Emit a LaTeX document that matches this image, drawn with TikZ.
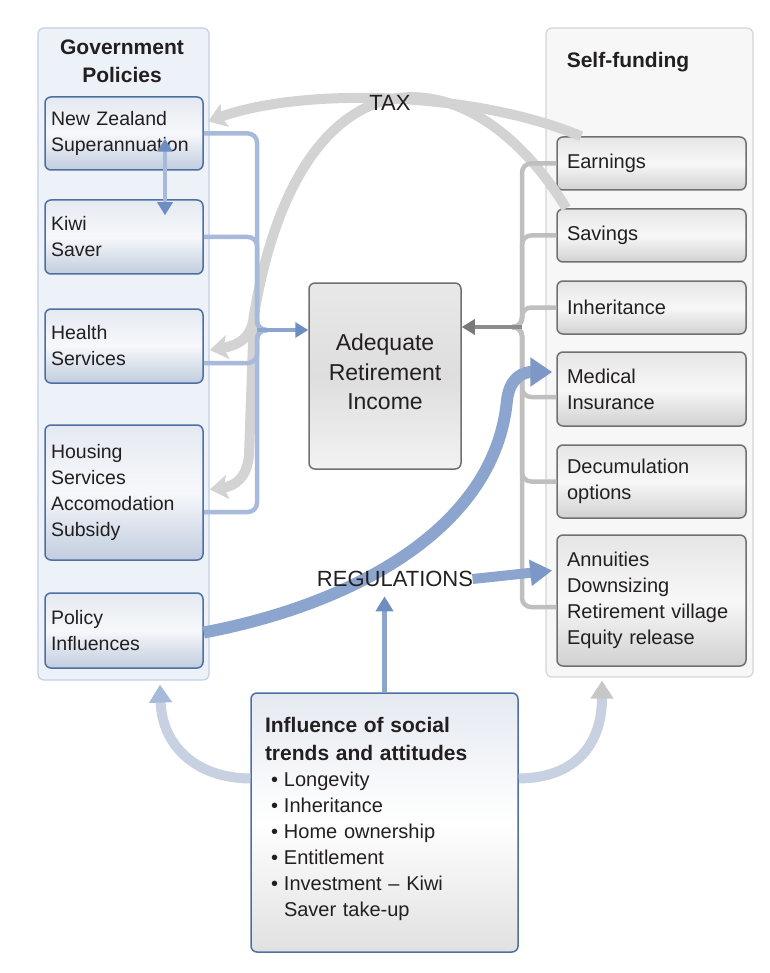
\documentclass[tikz,border=0pt]{standalone}
\usepackage{fontspec}
\setmainfont{Liberation Sans}
\usetikzlibrary{arrows.meta}

\definecolor{txt}{HTML}{231F20}
\definecolor{govfill}{HTML}{EDF1F8}
\definecolor{govline}{HTML}{C3CFE3}
\definecolor{selffill}{HTML}{F7F7F7}
\definecolor{selfline}{HTML}{D4D4D4}
\definecolor{boxblue}{HTML}{4E6FA3}
\definecolor{boxgray}{HTML}{707070}
\definecolor{lnkblue}{HTML}{A7BADB}
\definecolor{tipblue}{HTML}{6E8DC0}
\definecolor{lnkgray}{HTML}{BFBFBF}
\definecolor{tipgray}{HTML}{7A7A7A}
\definecolor{taxgray}{HTML}{D3D3D3}
\definecolor{arcblue}{HTML}{8CA5CE}
\definecolor{trendmix}{HTML}{C8D1E1}

\tikzset{
  panel/.style={rounded corners=6pt, line width=1.2pt, inner sep=0pt},
  paneltitle/.style={align=center, text=txt, font=\fontsize{21}{28}\bfseries},
  govbox/.style={draw=boxblue, line width=1.5pt, rounded corners=6pt,
    top color=govtop, bottom color=govbot, middle color=govmid,
    minimum width=158, text width=146, inner xsep=6pt, align=left,
    text=txt, font=\fontsize{19.5}{26}\selectfont},
  selfbox/.style={draw=boxgray, line width=1.5pt, rounded corners=6pt,
    top color=graytop, bottom color=graybot, middle color=graymid,
    minimum width=189, text width=169, inner xsep=10pt, align=left,
    text=txt, font=\fontsize{20}{26}\selectfont},
  govlink/.style={draw=lnkblue, line width=4.5pt, rounded corners=9pt},
  selflink/.style={draw=lnkgray, line width=4.5pt, rounded corners=9pt},
  biglabel/.style={text=txt, font=\fontsize{22}{26}\selectfont},
  taxarc/.style={draw=taxgray, line width=10pt,
    -{Stealth[width=24pt, length=18pt, inset=4pt]}},
}
\colorlet{govtop}{boxblue!15!white}
\colorlet{govmid}{boxblue!5!white}
\colorlet{govbot}{boxblue!35!white}
\colorlet{graytop}{black!10}
\colorlet{graymid}{black!3}
\colorlet{graybot}{black!18}

\begin{document}
\begin{tikzpicture}[x=1pt, y=-1pt]
  \useasboundingbox (0,0) rectangle (769,973);

  \node[panel, draw=govline, fill=govfill, minimum width=171, minimum height=652] (govpanel) at (123.5,354) {};
  \node[panel, draw=selfline, fill=selffill, minimum width=207, minimum height=649] (selfpanel) at (649.5,352.5) {};
  \node[paneltitle] (govtitle) at (122,61) {Government\\Policies};
  \node[paneltitle] (selftitle) at (628,62) {Self-funding};

  \node[govbox, minimum height=73] (nzsuper) at (124,133.5) {New Zealand\\Superannuation};
  \node[govbox, minimum height=74] (kiwi) at (124,237) {Kiwi\\Saver};
  \node[govbox, minimum height=74] (health) at (124,346) {Health\\Services};
  \node[govbox, minimum height=135] (housing) at (124,492.5) {Housing\\Services\\Accomodation\\Subsidy};
  \node[govbox, minimum height=75] (policy) at (124,630.5) {Policy\\Influences};

  \node[selfbox, minimum height=53] (earnings) at (651.5,163.5) {Earnings};
  \node[selfbox, minimum height=53] (savings) at (651.5,235.5) {Savings};
  \node[selfbox, minimum height=53] (inherit) at (651.5,307.5) {Inheritance};
  \node[selfbox, minimum height=74] (medical) at (651.5,389) {Medical\\Insurance};
  \node[selfbox, minimum height=73] (decum) at (651.5,481.5) {Decumulation\\options};
  \node[selfbox, minimum height=131] (annuities) at (651.5,600.5) {Annuities\\Downsizing\\Retirement village\\Equity release};

  \node[draw=boxgray, line width=1.5pt, rounded corners=6pt, top color=black!9, bottom color=black!5, middle color=black!13,
    minimum width=152, minimum height=186, align=center, text=txt, font=\fontsize{23}{29.5}\selectfont] (income) at (385,376)
    {Adequate\\Retirement\\Income\\[-21.5pt]\mbox{}};

  \node[draw=boxblue, line width=1.5pt, rounded corners=6pt, top color=govtop, bottom color=black!12, middle color=white,
    minimum width=267, minimum height=259, text width=239, inner xsep=14pt, align=left, text=txt,
    font=\fontsize{20}{26}\selectfont] (social) at (384.5,822.5)
    {{\fontsize{21}{28}\bfseries Influence of social\\trends and attitudes\par}
     \hspace*{6pt}\textbullet\hspace{6pt}Longevity\\
     \hspace*{6pt}\textbullet\hspace{6pt}Inheritance\\
     \hspace*{6pt}\textbullet\hspace{6pt}Home ownership\\
     \hspace*{6pt}\textbullet\hspace{6pt}Entitlement\\
     \hspace*{6pt}\textbullet\hspace{6pt}Investment -- Kiwi\\
     \hspace*{19pt}Saver take-up\\[-14pt]\mbox{}};

  \coordinate (taxsplit) at (254,315);
  \draw[taxarc] ([xshift=25]earnings.north west) .. controls (470,90) and (300,88) .. ([xshift=4,yshift=12]nzsuper.east);
  \draw[taxarc] ([xshift=10]savings.north west) .. controls (470,50) and (300,40) .. (taxsplit)
    .. controls (252,340) and (235,346) .. ([xshift=6,yshift=-4]health.east);
  \draw[taxarc] (taxsplit) -- (249,455) .. controls (247,478) and (235,486) .. ([xshift=6,yshift=3]housing.east);

  \coordinate (bjoin) at (257,330);
  \draw[govlink] (nzsuper.east) -| (bjoin) -- +(10,0);
  \draw[govlink] (kiwi.east) -| (bjoin) -- +(10,0);
  \draw[govlink] ([yshift=-17]health.east) -| (bjoin) -- +(10,0);
  \draw[govlink] ([yshift=-19.5]housing.east) -| (bjoin) -- +(10,0);
  \draw[draw=arcblue, line width=4.5pt, -{Triangle[width=15pt, length=13pt, color=tipblue]}] (bjoin) -- (bjoin -| income.west);

  \coordinate (gjoin) at (522,327);
  \draw[selflink] (earnings.west) -| (gjoin) -- +(-10,0);
  \draw[selflink] (savings.west) -| (gjoin) -- +(-10,0);
  \draw[selflink] (inherit.west) -| (gjoin) -- +(-10,0);
  \draw[selflink] ([yshift=-8]medical.west) -| (gjoin) -- +(-10,0);
  \draw[selflink] (decum.west) -| (gjoin) -- +(-10,0);
  \draw[selflink] ([yshift=-6.5]annuities.west) -| (gjoin) -- +(-10,0);
  \draw[draw=black!45, line width=4.5pt, -{Triangle[width=15pt, length=13pt, color=tipgray]}] (gjoin) -- (gjoin -| income.east);

  \draw[draw=lnkblue, line width=4pt, {Triangle[width=15pt, length=13pt, color=tipblue]}-{Triangle[width=15pt, length=13pt, color=tipblue]}]
    ([xshift=41,yshift=32]nzsuper.south) -- ([xshift=41,yshift=-16]kiwi.north);

  \draw[draw=arcblue, line width=12pt, -{Triangle[width=28pt, length=22pt, color=tipblue!90]}] ([yshift=-2]policy.east)
    .. controls (350,605) and (495,530) .. (507,400) .. controls (510,376) and (525,372) .. ([xshift=-4,yshift=17]medical.west);

  \node[biglabel] (tax) at (390,103) {TAX};
  \node[biglabel] (regs) at (395,579) {REGULATIONS};
  \draw[draw=arcblue, line width=10pt, -{Triangle[width=25pt, length=22pt, color=tipblue!90]}]
    ([xshift=-4]regs.east) -- ([xshift=-4,yshift=30]annuities.west);
  \draw[draw=arcblue, line width=5pt, shorten >=6pt, -{Triangle[width=17pt, length=15pt, color=tipblue]}]
    (social.north) -- (social.north |- regs.south);

  \draw[draw=trendmix, line width=10pt, -{Triangle[width=22pt, length=18pt, color=lnkblue]}]
    ([yshift=44]social.west) .. controls (195,778) and (162,745) .. ([xshift=36.5,yshift=-4]govpanel.south);
  \draw[draw=trendmix, line width=10pt, -{Triangle[width=22pt, length=18pt, color=black!22]}]
    ([yshift=44]social.east) .. controls (575,778) and (602,745) .. ([xshift=-47.5,yshift=-3]selfpanel.south);
\end{tikzpicture}
\end{document}
